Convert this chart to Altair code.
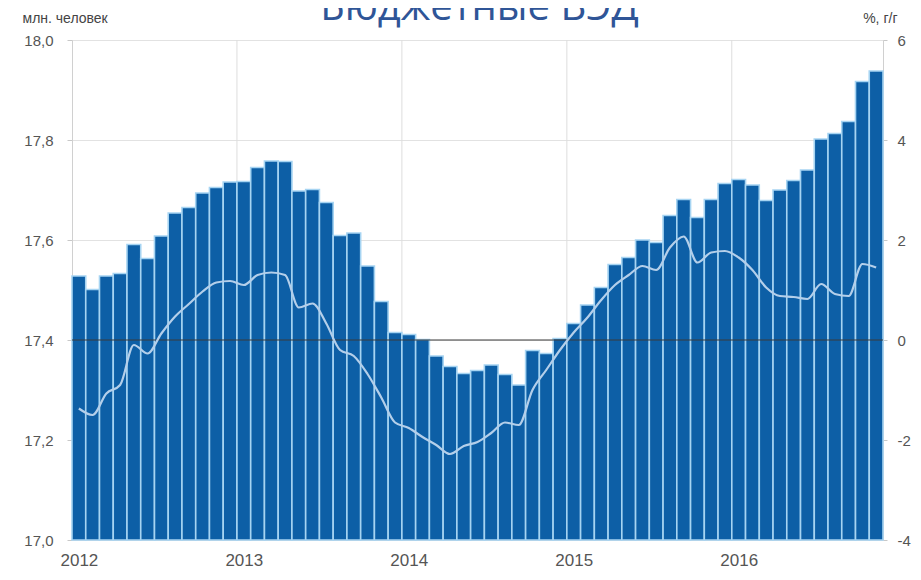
import altair as alt
import pandas as pd

title_text = "Бюджетные ВЭД"
left_unit = "млн. человек"
right_unit = "%, г/г"
years = ["2012", "2013", "2014", "2015", "2016"]

# employment, mln persons (bars), Jan 2012 .. Nov 2016
employment = [
    17.528, 17.501, 17.528, 17.533, 17.591, 17.563, 17.608, 17.654, 17.665, 17.694, 17.705, 17.716,
    17.717, 17.745, 17.758, 17.757, 17.698, 17.701, 17.675, 17.609, 17.614, 17.548, 17.477, 17.415,
    17.411, 17.401, 17.368, 17.347, 17.333, 17.339, 17.350, 17.331, 17.310, 17.379, 17.373, 17.403,
    17.433, 17.470, 17.505, 17.551, 17.565, 17.600, 17.595, 17.649, 17.681, 17.645, 17.681, 17.713,
    17.721, 17.710, 17.679, 17.700, 17.719, 17.740, 17.802, 17.813, 17.837, 17.917, 17.938,
]
# growth, % y/y (line)
growth = [
    -1.37, -1.50, -1.07, -0.90, -0.10, -0.27, 0.13, 0.47, 0.72, 0.97, 1.15, 1.18,
    1.10, 1.30, 1.35, 1.30, 0.65, 0.73, 0.33, -0.20, -0.32, -0.68, -1.15, -1.65,
    -1.76, -1.94, -2.10, -2.28, -2.12, -2.04, -1.86, -1.65, -1.70, -1.00, -0.60, -0.20,
    0.15, 0.45, 0.80, 1.10, 1.30, 1.48, 1.40, 1.85, 2.07, 1.55, 1.75, 1.78,
    1.65, 1.40, 1.05, 0.88, 0.86, 0.82, 1.12, 0.92, 0.88, 1.52, 1.45,
]
left_ticks = [17.0, 17.2, 17.4, 17.6, 17.8, 18.0]
right_ticks = [-4, -2, 0, 2, 4, 6]

n = len(employment)
df = pd.DataFrame({"i": list(range(n)), "emp": employment, "g": growth})
df["x0"] = df["i"]
df["x1"] = df["i"] + 1
df["xc"] = df["i"] + 0.5

year_starts = pd.DataFrame({"v": [12 * k for k in range(1, len(years))]})
title_df = pd.DataFrame({"t": [title_text]})

W, H = 811, 500
FONT = "Liberation Sans"

xscale = alt.Scale(domain=[0, n], nice=False, zero=False)
year_array = "[" + ",".join("'" + y + "'" for y in years) + "]"
xaxis = alt.Axis(
    values=[12 * k + 0.5 for k in range(len(years))],
    labelExpr=year_array + "[floor(datum.value/12)]",
    title=None, grid=False, ticks=False, domain=True, domainColor="#d0d0d0",
    labelFont=FONT, labelFontSize=17, labelColor="#555555", labelPadding=12,
)

vgrid = alt.Chart(year_starts).mark_rule(color="#dddddd", strokeWidth=1).encode(
    x=alt.X("v:Q", scale=xscale, axis=xaxis)
)

bars = alt.Chart(df).mark_bar(
    color="#0d5fa6", stroke="#a6d4f2", strokeWidth=1.6
).encode(
    x=alt.X("x0:Q", scale=xscale, axis=xaxis),
    x2="x1:Q",
    y=alt.Y(
        "emp:Q",
        scale=alt.Scale(domain=[17.0, 18.0], nice=False, zero=False),
        axis=alt.Axis(
            orient="left", values=left_ticks,
            labelExpr="replace(format(datum.value, '.1f'), '.', ',')",
            grid=True, gridColor="#e2e2e2", domainColor="#d0d0d0",
            tickColor="#c8c8c8", tickSize=5, labelPadding=14,
            labelFont=FONT, labelFontSize=15, labelColor="#555555",
            title=left_unit, titleAngle=0, titleX=-50, titleY=-22,
            titleAlign="left", titleBaseline="middle",
            titleFont=FONT, titleFontSize=14, titleFontWeight="normal", titleColor="#444444",
        ),
    ),
    y2=alt.datum(17.0),
)

zero_rule = alt.Chart(pd.DataFrame({"z": [0]})).mark_rule(color="#3a3a3a", strokeWidth=1.2).encode(
    y=alt.Y("z:Q", scale=alt.Scale(domain=[-4, 6], nice=False, zero=False), axis=None)
)

line = alt.Chart(df).mark_line(
    color="#b4cfea", strokeWidth=2.2, interpolate="monotone"
).encode(
    x=alt.X("xc:Q", scale=xscale, axis=xaxis),
    y=alt.Y(
        "g:Q",
        scale=alt.Scale(domain=[-4, 6], nice=False, zero=False),
        axis=alt.Axis(
            orient="right", values=right_ticks,
            labelExpr="'' + datum.value",
            grid=False, domainColor="#d0d0d0", tickColor="#c8c8c8", tickSize=4,
            labelPadding=10, labelFont=FONT, labelFontSize=15, labelColor="#555555",
            title=right_unit, titleAngle=0, titleX=14, titleY=-22,
            titleAlign="right", titleBaseline="middle",
            titleFont=FONT, titleFontSize=14, titleFontWeight="normal", titleColor="#444444",
        ),
    ),
)

title = alt.Chart(title_df).mark_text(
    font="Open Sans", fontSize=40, color="#2f5597", align="center", baseline="alphabetic"
).encode(
    text="t:N", x=alt.value(W / 2 + 2), y=alt.value(-20)
)

chart = alt.layer(vgrid, bars, zero_rule, line, title).resolve_scale(
    y="independent"
).properties(
    width=W, height=H,
    autosize=alt.AutoSizeParams(type="none"),
    padding={"left": 64, "top": 32, "right": 30, "bottom": 28},
).configure_view(stroke=None).configure(background="white")

chart.save("out.html", embed_options={"renderer": "svg", "actions": False})
